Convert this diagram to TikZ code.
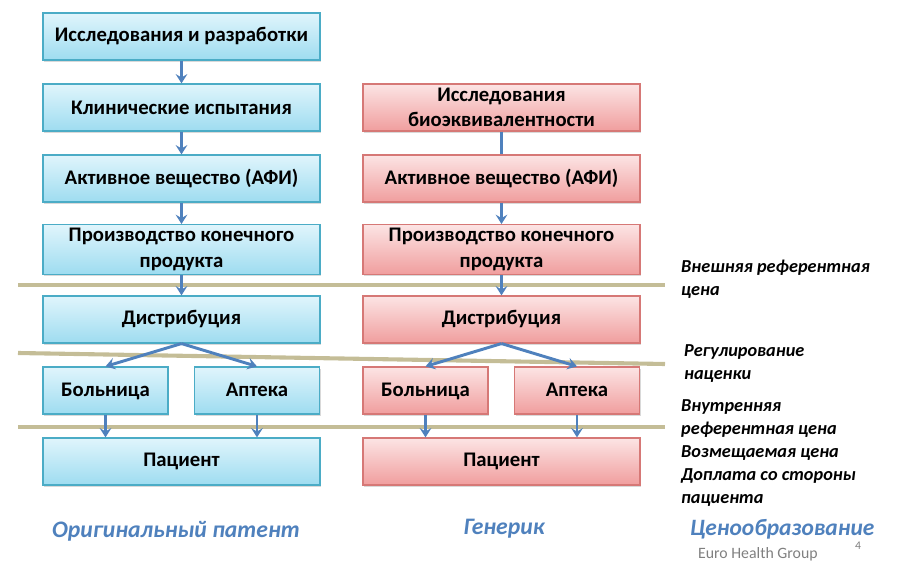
\documentclass[tikz,border=0pt]{standalone}
\usepackage{fontspec}
\setmainfont{Carlito}
\definecolor{boxblue}{RGB}{75,172,198}
\definecolor{bluetop}{RGB}{224,245,252}
\definecolor{bluebottom}{RGB}{158,220,240}
\definecolor{boxred}{RGB}{214,120,118}
\definecolor{redtop}{RGB}{252,228,228}
\definecolor{redbottom}{RGB}{240,158,158}
\definecolor{arrowblue}{RGB}{79,129,189}
\definecolor{tanline}{RGB}{196,189,151}
\usetikzlibrary{arrows.meta, shadows}

\begin{document}
\begin{tikzpicture}[x=0.03cm, y=-0.03cm,
  box/.style={draw=boxblue, line width=1pt, top color=bluetop, bottom color=bluebottom,
    minimum width=8.31cm, minimum height=1.41cm, align=center,
    font=\fontsize{17.7}{21.5}\selectfont\bfseries,
    drop shadow={shadow xshift=1.2pt, shadow yshift=-1.5pt, opacity=0.3}},
  small/.style={minimum width=3.75cm, text height=2ex, text depth=0pt},
  genbox/.style={box, draw=boxred, top color=redtop, bottom color=redbottom},
  arw/.style={-{Stealth[length=8pt, width=10pt, inset=3pt]}, line width=2.5pt, arrowblue},
  sep/.style={line width=3.5pt, tanline},
  note/.style={anchor=west, align=left, font=\fontsize{15.6}{19.6}\selectfont\bfseries\itshape},
  title/.style={font=\fontsize{20.2}{22}\selectfont\bfseries\itshape, arrowblue},
]
\useasboundingbox (0,0) rectangle (900,567);

% Separator lines
\draw[sep] (18,285) -- (665,285);
\draw[sep] (18,353) -- (665,364);
\draw[sep] (18,427) -- (665,427);

% Original patent
\node[box] (rd) at (181.5,36.5) {Исследования и разработки};
\node[box] (clin) at (181.5,107.5) {Клинические испытания};
\node[box] (api) at (181.5,178.5) {Активное вещество (АФИ)};
\node[box] (prod) at (181.5,249.5) {Производство конечного\\продукта};
\node[box] (dist) at (181.5,319.5) {Дистрибуция};
\node[box, small] (hosp) at (105.5,390.5) {Больница};
\node[box, small] (pharm) at (257,390.5) {Аптека};
\node[box] (pat) at (181.5,461.5) {Пациент};

% Generic
\node[genbox] (bio) at (501.5,107.5) {Исследования\\биоэквивалентности};
\node[genbox] (gapi) at (501.5,178.5) {Активное вещество (АФИ)};
\node[genbox] (gprod) at (501.5,249.5) {Производство конечного\\продукта};
\node[genbox] (gdist) at (501.5,319.5) {Дистрибуция};
\node[genbox, small] (ghosp) at (425.5,390.5) {Больница};
\node[genbox, small] (gpharm) at (577,390.5) {Аптека};
\node[genbox] (gpat) at (501.5,461.5) {Пациент};

% Arrows
\draw[arw] (rd) -- (clin);
\draw[arw] (clin) -- (api);
\draw[arw] (api) -- (prod);
\draw[arw] (prod) -- (dist);
\draw[arw] (dist.south) -- (hosp.north);
\draw[arw] (dist.south) -- (pharm.north);
\draw[arw] (hosp) -- (hosp |- pat.north);
\draw[arw] (pharm) -- (pharm |- pat.north);
\draw[line width=2.5pt, arrowblue] (bio) -- (gapi);
\draw[arw] (gapi) -- (gprod);
\draw[arw] (gprod) -- (gdist);
\draw[arw] (gdist.south) -- (ghosp.north);
\draw[arw] (gdist.south) -- (gpharm.north);
\draw[arw] (ghosp) -- (ghosp |- gpat.north);
\draw[arw] (gpharm) -- (gpharm |- gpat.north);

% Pricing notes
\node[note] (ext) at (677,279.5) {Внешняя референтная\\цена};
\node[note] (markup) at (680,363.5) {Регулирование\\наценки};
\node[note] (int) at (677,453) {Внутренняя\\референтная цена\\Возмещаемая цена\\Доплата со стороны\\пациента};

% Titles
\node[title] (orig) at (176,531) {Оригинальный патент};
\node[title] (gen) at (504,529) {Генерик};
\node[title, anchor=west, font=\fontsize{20}{22}\selectfont\bfseries\itshape] (price) at (686,529) {Ценообразование};
\node[anchor=west, gray, font=\fontsize{13.5}{15}\selectfont] (euro) at (694,554) {Euro Health Group};
\node[gray, font=\fontsize{10}{11}\selectfont] (num) at (858,546) {4};
\end{tikzpicture}
\end{document}
